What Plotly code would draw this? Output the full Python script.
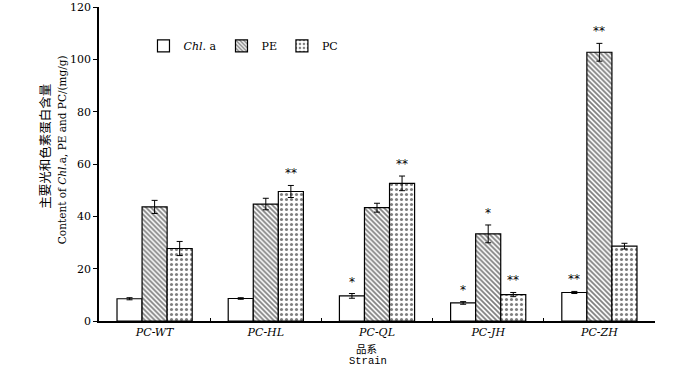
import plotly.graph_objects as go

strains = ["PC-WT", "PC-HL", "PC-QL", "PC-JH", "PC-ZH"]
tick_labels = ["<i>PC-WT</i>", "<i>PC-HL</i>", "<i>PC-QL</i>", "<i>PC-JH</i>", "<i>PC-ZH</i>"]

chl_vals = [8.5, 8.6, 9.6, 6.9, 10.9]
chl_err = [0.4, 0.3, 0.9, 0.5, 0.4]
chl_sig = ["", "", "*", "*", "**"]

pe_vals = [43.6, 44.7, 43.3, 33.3, 102.7]
pe_err = [2.5, 2.2, 1.7, 3.4, 3.4]
pe_sig = ["", "", "", "*", "**"]

pc_vals = [27.7, 49.5, 52.6, 10.1, 28.6]
pc_err = [2.7, 2.3, 2.8, 0.8, 1.1]
pc_sig = ["", "**", "**", "**", ""]

series = [
    ("<i>Chl.</i> a", chl_vals, chl_err, chl_sig, "", -1),
    ("PE", pe_vals, pe_err, pe_sig, "\\", 0),
    ("PC", pc_vals, pc_err, pc_sig, ".", 1),
]

serif = "DejaVu Serif, Liberation Serif, serif"
cjk = "Noto Sans CJK SC"
fig = go.Figure()
for name, vals, errs, sigs, shape, off in series:
    pattern = dict(shape=shape, fgcolor="black", bgcolor="white")
    if shape == "\\":
        pattern.update(size=3.5, solidity=0.5)
    elif shape == ".":
        pattern.update(size=5, solidity=0.3)
    fig.add_trace(go.Bar(
        name=name, x=strains, y=vals,
        marker=dict(color="white", line=dict(color="black", width=1.2), pattern=pattern),
        error_y=dict(type="data", array=errs, color="black", thickness=1, width=3),
    ))
    for s, v, e, sig in zip(strains, vals, errs, sigs):
        if sig:
            fig.add_annotation(x=s, y=v + e, text=sig, showarrow=False,
                               xshift=off * 25, yshift=3, yanchor="bottom",
                               font=dict(family="DejaVu Sans, sans-serif", size=12, color="#000000"))

# y-axis title (two lines, rotated)
fig.add_annotation(xref="paper", yref="paper", x=-0.097, y=0.555, textangle=-90,
                   text="主要光和色素蛋白含量", showarrow=False,
                   xanchor="center", yanchor="middle",
                   font=dict(family=cjk, size=12.5, color="black"))
fig.add_annotation(xref="paper", yref="paper", x=-0.066, y=0.545, textangle=-90,
                   text="Content of <i>Chl.</i>a, PE and PC/(mg/g)", showarrow=False,
                   xanchor="center", yanchor="middle",
                   font=dict(family=serif, size=10.5, color="black"))
# x-axis title
fig.add_annotation(xref="paper", yref="paper", x=0.482, y=-0.086,
                   text="品系", showarrow=False, xanchor="center", yanchor="middle",
                   font=dict(family=cjk, size=10.5, color="black"))
fig.add_annotation(xref="paper", yref="paper", x=0.484, y=-0.126,
                   text="Strain", showarrow=False, xanchor="center", yanchor="middle",
                   font=dict(family="Liberation Mono, DejaVu Sans Mono, monospace", size=10.5, color="black"))

fig.update_layout(
    width=700, height=367,
    margin=dict(l=99, r=45, t=7, b=46, autoexpand=False),
    paper_bgcolor="white", plot_bgcolor="white",
    barmode="group", bargap=0.324, bargroupgap=0,
    font=dict(family=serif, size=11, color="black"),
    legend=dict(orientation="h", x=0.08, y=0.876, xanchor="left", yanchor="middle",
                bgcolor="rgba(0,0,0,0)", font=dict(size=11), itemwidth=30),
    showlegend=True,
)
fig.update_xaxes(
    tickmode="array", tickvals=strains, ticktext=tick_labels,
    showline=True, linecolor="black", linewidth=1.5,
    ticks="inside", tickson="boundaries", ticklen=3, tickcolor="black",
    showgrid=False, tickfont=dict(size=11), automargin=False,
)
fig.update_yaxes(
    range=[0, 120], tickvals=[0, 20, 40, 60, 80, 100, 120],
    showline=True, linecolor="black", linewidth=1.5,
    ticks="outside", ticklen=4, tickcolor="black",
    showgrid=False, zeroline=False, tickfont=dict(size=11), automargin=False,
)

fig.write_html("out.html", config={"displayModeBar": False},
               post_script="document.body.style.margin='0';document.body.style.padding='0';")
